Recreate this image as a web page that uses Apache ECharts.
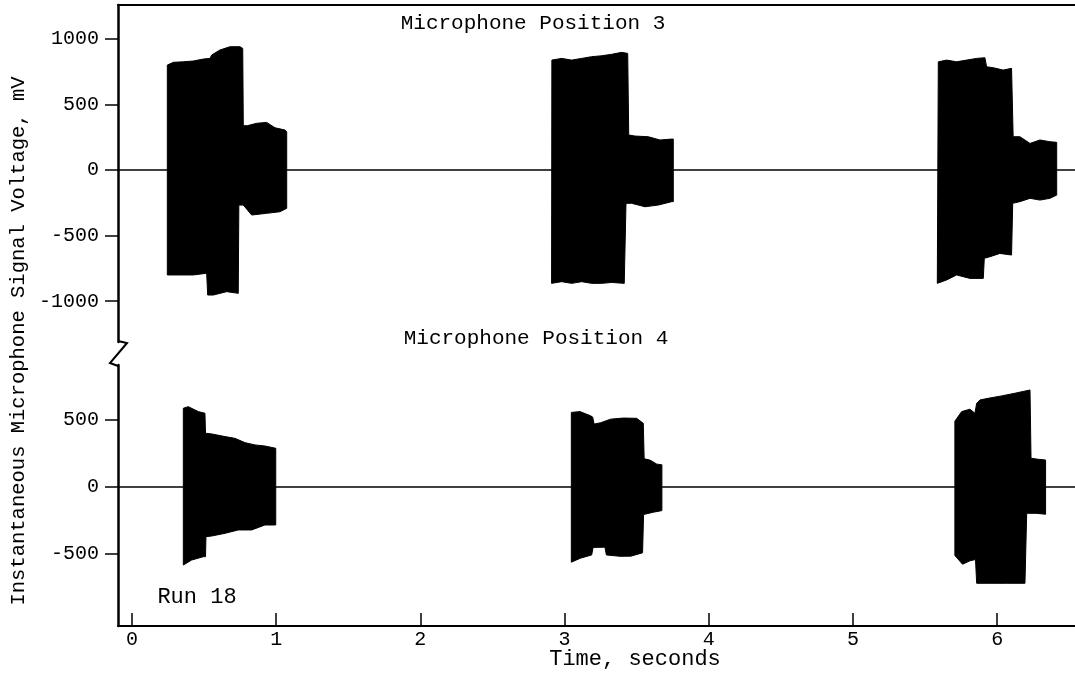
<!DOCTYPE html>
<html>
<head>
<meta charset="utf-8">
<script src="https://cdn.jsdelivr.net/npm/echarts@6/dist/echarts.min.js"></script>
<style>
  html, body { margin: 0; padding: 0; background: #fff; }
  #chart { width: 1075px; height: 676px; }
</style>
</head>
<body>
<div id="chart"></div>
<script>
// ---- tick labels ----
const timeTicks = [0, 1, 2, 3, 4, 5, 6];
const pos3Ticks = [1000, 500, 0, -500, -1000];
const pos4Ticks = [500, 0, -500];

// ---- signal envelopes: [time s, voltage mV] ----
// Microphone Position 3
const p3Burst1Upper = [[0.245,800],[0.287,821],[0.356,825],[0.425,831],[0.495,846],[0.541,851],[0.553,877],[0.610,915],[0.680,940],[0.749,940],[0.768,927],[0.772,338],[0.800,338],[0.864,356],[0.934,363],[0.992,322],[1.061,305],[1.073,290]];
const p3Burst1Lower = [[0.245,-800],[0.333,-800],[0.425,-800],[0.518,-787],[0.525,-953],[0.564,-953],[0.657,-927],[0.737,-940],[0.741,-267],[0.772,-267],[0.830,-343],[0.934,-330],[1.026,-318],[1.073,-292]];
const p3Burst2Upper = [[2.912,838],[2.980,851],[3.049,838],[3.119,851],[3.188,864],[3.257,871],[3.327,882],[3.396,897],[3.438,889],[3.445,267],[3.488,259],[3.580,254],[3.662,229],[3.743,236],[3.754,236]];
const p3Burst2Lower = [[2.910,-864],[2.980,-851],[3.049,-864],[3.119,-851],[3.188,-864],[3.257,-864],[3.327,-857],[3.414,-864],[3.426,-254],[3.465,-254],[3.558,-280],[3.650,-267],[3.743,-241],[3.754,-241]];
const p3Burst3Upper = [[5.592,825],[5.650,838],[5.719,825],[5.788,838],[5.858,851],[5.915,856],[5.927,787],[5.973,780],[6.042,762],[6.100,775],[6.111,254],[6.158,254],[6.228,203],[6.297,229],[6.366,216],[6.413,211]];
const p3Burst3Lower = [[5.585,-864],[5.650,-838],[5.719,-800],[5.811,-826],[5.904,-826],[5.911,-673],[5.950,-661],[6.019,-636],[6.100,-648],[6.108,-254],[6.158,-241],[6.228,-216],[6.297,-229],[6.366,-216],[6.413,-191]];
// Microphone Position 4
const p4Burst1Upper = [[0.356,586],[0.390,598],[0.460,561],[0.506,549],[0.510,400],[0.553,395],[0.645,375],[0.714,362],[0.784,330],[0.853,313],[0.922,305],[0.997,288]];
const p4Burst1Lower = [[0.356,-581],[0.414,-544],[0.495,-519],[0.510,-519],[0.513,-370],[0.553,-365],[0.645,-345],[0.737,-320],[0.830,-320],[0.922,-283],[0.997,-283]];
const p4Burst2Upper = [[3.047,555],[3.107,561],[3.180,530],[3.195,520],[3.205,468],[3.250,478],[3.320,505],[3.407,513],[3.500,511],[3.546,474],[3.552,210],[3.592,200],[3.640,170],[3.675,165]];
const p4Burst2Lower = [[3.047,-560],[3.110,-530],[3.188,-506],[3.198,-450],[3.280,-448],[3.290,-506],[3.384,-516],[3.460,-515],[3.541,-490],[3.548,-205],[3.615,-188],[3.675,-176]];
const p4Burst3Upper = [[5.707,490],[5.754,561],[5.811,579],[5.846,549],[5.858,623],[5.881,648],[5.938,660],[6.031,678],[6.124,698],[6.228,722],[6.235,214],[6.285,206],[6.336,201]];
const p4Burst3Lower = [[5.707,-510],[5.760,-575],[5.811,-550],[5.850,-540],[5.858,-717],[5.950,-717],[6.066,-717],[6.193,-717],[6.205,-196],[6.270,-196],[6.336,-203]];

const pos3Bursts = [
  { upper: p3Burst1Upper, lower: p3Burst1Lower },
  { upper: p3Burst2Upper, lower: p3Burst2Lower },
  { upper: p3Burst3Upper, lower: p3Burst3Lower }
];
const pos4Bursts = [
  { upper: p4Burst1Upper, lower: p4Burst1Lower },
  { upper: p4Burst2Upper, lower: p4Burst2Lower },
  { upper: p4Burst3Upper, lower: p4Burst3Lower }
];

const X_MIN = -0.097, X_MAX = 6.54;
const FONT = '"Liberation Mono", "DejaVu Sans Mono", monospace';

function burstSeries(bursts, idx) {
  return {
    type: 'custom',
    xAxisIndex: idx, yAxisIndex: idx,
    data: bursts.map((b, i) => [b.upper[0][0], 0, i]),
    encode: { x: 0, y: 1 },
    renderItem: function (params, api) {
      const b = bursts[api.value(2)];
      const pts = b.upper.concat(b.lower.slice().reverse()).map(p => api.coord(p));
      return { type: 'polygon', shape: { points: pts }, style: { fill: '#000', stroke: '#000', lineWidth: 1 } };
    },
    z: 3
  };
}
function baselineSeries(idx) {
  return {
    type: 'line', xAxisIndex: idx, yAxisIndex: idx,
    data: [[X_MIN, 0], [X_MAX, 0]],
    symbol: 'none', lineStyle: { color: '#000', width: 1.4 }, z: 2, silent: true
  };
}

const axisLineStyle = (w) => ({ show: true, onZero: false, lineStyle: { color: '#000', width: w } });
const labelStyle = { color: '#000', fontFamily: FONT, fontSize: 20 };

const chart = echarts.init(document.getElementById('chart'), null, { renderer: 'canvas' });
chart.setOption({
  backgroundColor: '#fff',
  animation: false,
  grid: [
    { left: 118, top: 5, width: 957, height: 337 },
    { left: 118, top: 365, width: 957, height: 261 }
  ],
  xAxis: [
    { gridIndex: 0, type: 'value', min: X_MIN, max: X_MAX, position: 'top',
      axisLine: axisLineStyle(2), axisTick: { show: false }, axisLabel: { show: false }, splitLine: { show: false } },
    { gridIndex: 1, type: 'value', min: X_MIN, max: X_MAX, position: 'bottom',
      axisLine: axisLineStyle(2),
      axisTick: { show: true, inside: true, length: 13, customValues: timeTicks, lineStyle: { color: '#000', width: 1.5 } },
      axisLabel: Object.assign({ customValues: timeTicks, margin: 4, formatter: v => String(v) }, labelStyle),
      splitLine: { show: false } }
  ],
  yAxis: [
    { gridIndex: 0, type: 'value', min: -1311, max: 1258,
      axisLine: axisLineStyle(2.5),
      axisTick: { show: true, length: 13, customValues: pos3Ticks, lineStyle: { color: '#000', width: 1.5 } },
      axisLabel: Object.assign({ customValues: pos3Ticks, margin: 19, formatter: v => String(v) }, labelStyle),
      splitLine: { show: false } },
    { gridIndex: 1, type: 'value', min: -1035, max: 908,
      axisLine: axisLineStyle(2.5),
      axisTick: { show: true, length: 13, customValues: pos4Ticks, lineStyle: { color: '#000', width: 1.5 } },
      axisLabel: Object.assign({ customValues: pos4Ticks, margin: 19, formatter: v => String(v) }, labelStyle),
      splitLine: { show: false } }
  ],
  series: [
    baselineSeries(0), burstSeries(pos3Bursts, 0),
    baselineSeries(1), burstSeries(pos4Bursts, 1)
  ],
  graphic: [
    { type: 'text', x: 533, y: 23, style: { text: 'Microphone Position 3', font: '21px ' + FONT, fill: '#000', align: 'center', verticalAlign: 'middle' } },
    { type: 'text', x: 536, y: 338, style: { text: 'Microphone Position 4', font: '21px ' + FONT, fill: '#000', align: 'center', verticalAlign: 'middle' } },
    { type: 'text', x: 197, y: 597, style: { text: 'Run 18', font: '22px ' + FONT, fill: '#000', align: 'center', verticalAlign: 'middle' } },
    { type: 'text', x: 635, y: 659, style: { text: 'Time, seconds', font: '22px ' + FONT, fill: '#000', align: 'center', verticalAlign: 'middle' } },
    { type: 'text', x: 19, y: 341, rotation: Math.PI / 2, style: { text: 'Instantaneous Microphone Signal Voltage, mV', font: '20.5px ' + FONT, fill: '#000', align: 'center', verticalAlign: 'middle' } },
    { type: 'polyline', shape: { points: [[118, 341], [127, 343], [110, 363], [118, 366]] }, style: { stroke: '#000', lineWidth: 2, fill: null } }
  ]
});
</script>
</body>
</html>
